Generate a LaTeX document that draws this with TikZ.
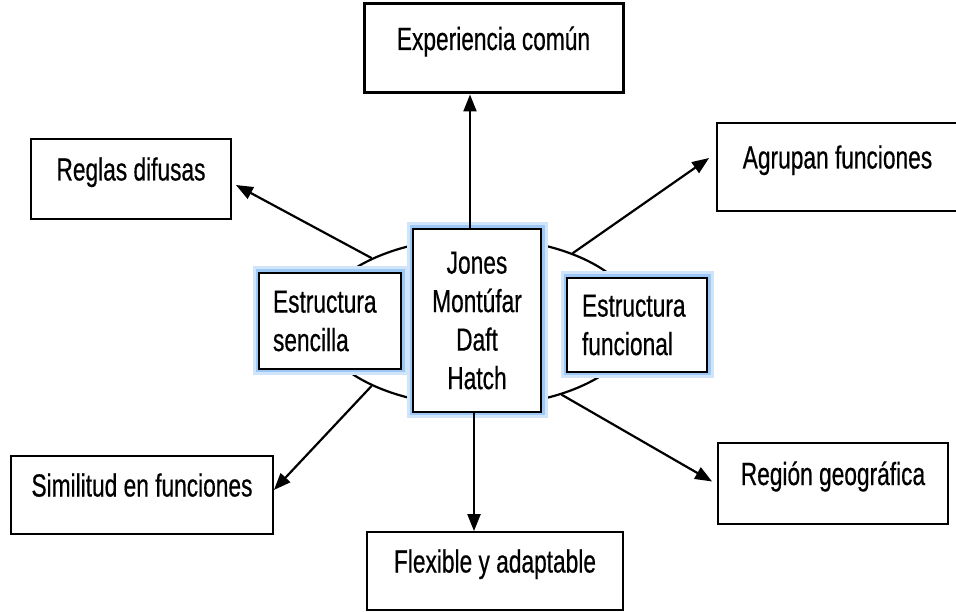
\documentclass[tikz,border=0pt]{standalone}
\usepackage{fontspec}
\setmainfont{Liberation Sans}[FakeStretch=0.71, FakeBold=0.5]
\usetikzlibrary{arrows.meta,shapes.geometric}
\definecolor{resplandor}{RGB}{125,180,240}

\begin{document}
\begin{tikzpicture}[x=1pt, y=1pt,
                  every node/.style={font=\fontsize{32}{38.5}\selectfont},
                  caja/.style={draw, inner sep=0pt, text height=22pt, text depth=19pt},
                  interna/.style={draw, line width=1.8pt, fill=white, inner sep=0pt,
                                  preaction={draw=resplandor!35, line width=13pt},
                                  preaction={draw=resplandor!75, line width=7pt}},
                  flecha/.style={-{Triangle[length=17pt,width=13pt]}, line width=2.2pt}]
\useasboundingbox (0,0) rectangle (956,611);
\node[ellipse, draw, line width=2.2pt, inner sep=0pt,
      minimum width=320pt, minimum height=168pt] (elipse) at (478,289) {};
\node[interna, minimum width=142pt, minimum height=96pt, text width=114pt, align=left]
     (sencilla) at (330,290) {Estructura\\sencilla};
\node[interna, minimum width=140pt, minimum height=94pt, text width=110pt, align=left]
     (funcional) at (637,286) {Estructura\\funcional};
\node[interna, minimum width=128pt, minimum height=183pt, align=center]
     (centro) at (477,290.5) {Jones\\Montúfar\\Daft\\Hatch};
\foreach \n/\x/\y/\w/\h/\g/\t in {exp/493.5/562.5/259/89/3/Experiencia común,
                                 reglas/131/432/200/80/1.8/Reglas difusas,
                                 agrupan/837.5/444/241/88/1.8/Agrupan funciones,
                                 similitud/142/116/262/78/1.8/Similitud en funciones,
                                 region/833/127.5/230/81/1.8/Región geográfica,
                                 flexible/495/40/256/78/1.8/Flexible y adaptable}
  \node[caja, line width=\g pt, minimum width=\w pt, minimum height=\h pt] (\n) at (\x,\y) {\t};
\coordinate (arriba) at ([xshift=-7pt]centro.north);
\coordinate (abajo) at ([xshift=-3pt]centro.south);
\draw[flecha] (arriba) -- (arriba |- exp.south);
\draw[flecha] (abajo) -- (abajo |- flexible.north);
\foreach \ang/\dest/\dx/\dy in {149/reglas.east/4/-6, 36/agrupan.west/-7/9,
                                211/similitud.east/0/5, 319/region.west/-5/2}
  \draw[flecha] (elipse.\ang) -- ([xshift=\dx pt, yshift=\dy pt]\dest);
\end{tikzpicture}
\end{document}
